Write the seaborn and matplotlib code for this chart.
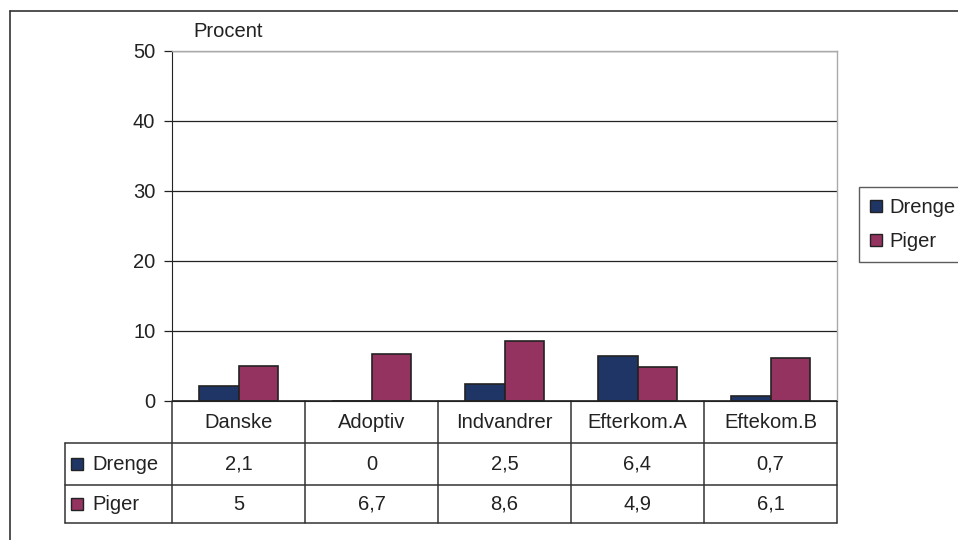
import matplotlib
matplotlib.use("Agg")
import pandas as pd
import seaborn as sns
import matplotlib.pyplot as plt
from matplotlib.patches import Patch
from matplotlib.lines import Line2D
from matplotlib.transforms import blended_transform_factory

# data
categories = ["Danske", "Adoptiv", "Indvandrer", "Efterkom.A", "Eftekom.B"]
drenge = [2.1, 0, 2.5, 6.4, 0.7]
piger = [5, 6.7, 8.6, 4.9, 6.1]
series = ["Drenge", "Piger"]
colors = ["#1F3566", "#943360"]

df = pd.DataFrame({
    "Gruppe": categories * 2,
    "Procent": drenge + piger,
    "Køn": ["Drenge"] * len(categories) + ["Piger"] * len(categories),
})

sns.set_style("white")
plt.rcParams["font.family"] = ["Liberation Sans", "DejaVu Sans"]
FS = 14.5
TXT = "#222222"
LINE = "#333333"

W, H = 958, 540
AX_H = 401 - 51
fig = plt.figure(figsize=(W / 100, H / 100), dpi=100)
ax = fig.add_axes([172 / W, 1 - 401 / H, (837 - 172) / W, AX_H / H])

sns.barplot(data=df, x="Gruppe", y="Procent", hue="Køn", palette=colors,
            width=0.59, edgecolor="#222222", linewidth=1.2, saturation=1,
            legend=False, ax=ax)

ax.set_ylim(0, 50)
ax.set_yticks(range(0, 51, 10))
ax.set_xlim(-0.5, len(categories) - 0.5)
ax.yaxis.grid(True, color="#222222", linewidth=0.9)
ax.set_axisbelow(True)
ax.set_xlabel("")
ax.set_ylabel("")
ax.set_xticks([])
ax.tick_params(axis="y", left=True, length=6, width=0.9, color="#222222",
               labelsize=FS, pad=6, labelcolor=TXT)
for s in ax.spines.values():
    s.set_visible(True)
for s in ["top", "right"]:
    ax.spines[s].set_color("#aaaaaa")
    ax.spines[s].set_linewidth(1.0)
ax.spines["left"].set_color("#222222")
ax.spines["bottom"].set_color("#222222")
ax.axhline(0, color="#222222", linewidth=1.2, zorder=5)

ax.text(0.032, 1 + 14 / AX_H, "Procent", transform=ax.transAxes, fontsize=FS,
        color=TXT, ha="left", va="baseline")

# data table below the axis, columns follow the category axis
trans = blended_transform_factory(ax.transData, ax.transAxes)
def ay(py):
    return -(py - 401) / AX_H

x_left = (65 - 172) / 665
row_edges = [401, 443, 485, 523]
n = len(categories)

line_kw = dict(color=LINE, linewidth=1.1, clip_on=False)
for i in range(n + 1):
    ax.add_line(Line2D([i - 0.5, i - 0.5], [ay(401), ay(523)], transform=trans, **line_kw))
ax.add_line(Line2D([x_left, x_left], [ay(443), ay(523)], transform=ax.transAxes, **line_kw))
for py in row_edges[1:]:
    ax.add_line(Line2D([x_left, 1], [ay(py), ay(py)], transform=ax.transAxes, **line_kw))

for i, cat in enumerate(categories):
    ax.text(i, ay((401 + 443) / 2), cat, transform=trans, ha="center", va="center",
            fontsize=FS, color=TXT, clip_on=False)

for r, (name, vals, col) in enumerate(zip(series, [drenge, piger], colors)):
    yc = ay((row_edges[r + 1] + row_edges[r + 2]) / 2)
    for i, v in enumerate(vals):
        ax.text(i, yc, f"{v:g}".replace(".", ","), transform=trans, ha="center",
                va="center", fontsize=FS, color=TXT, clip_on=False)
    ax.add_line(Line2D([(77 - 172) / 665], [yc], marker="s", markersize=8.5,
                       markerfacecolor=col, markeredgecolor="#222222",
                       markeredgewidth=1.0, linestyle="none",
                       transform=ax.transAxes, clip_on=False))
    ax.text((92 - 172) / 665, yc, name, transform=ax.transAxes, ha="left",
            va="center", fontsize=FS, color=TXT, clip_on=False)

# legend
handles = [Patch(facecolor=c, edgecolor="#222222", linewidth=1.0) for c in colors]
leg = fig.legend(handles, series, loc="upper left",
                 bbox_to_anchor=(859 / W, 1 - 187 / H), borderaxespad=0,
                 fontsize=FS, frameon=True, fancybox=False,
                 handlelength=0.6, handleheight=0.6, handletextpad=0.35,
                 labelspacing=0.75, borderpad=0.55)
leg.get_frame().set_edgecolor(LINE)
leg.get_frame().set_linewidth(1.0)
for t in leg.get_texts():
    t.set_color(TXT)

# outer chart frame (left and top edges visible)
fig.add_artist(Line2D([10 / W, 10 / W], [0, 1 - 11 / H], transform=fig.transFigure,
                      color=LINE, linewidth=1.2))
fig.add_artist(Line2D([10 / W, 1], [1 - 11 / H, 1 - 11 / H], transform=fig.transFigure,
                      color=LINE, linewidth=1.2))

fig.savefig("out.png", dpi=100)
